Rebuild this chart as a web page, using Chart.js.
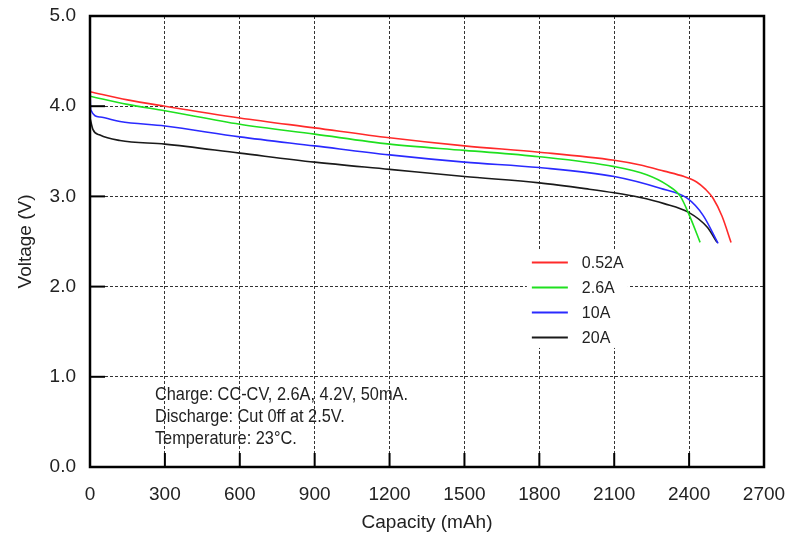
<!DOCTYPE html>
<html lang="en">
<head>
  <meta charset="UTF-8">
  <title>Discharge Curves</title>
  <style>
    body { margin: 0; background: #ffffff; }
    .wrap { width: 787px; height: 535px; }
  </style>
</head>
<body>
  <div class="wrap"><canvas id="dischargeChart" width="787" height="535"></canvas></div>

  <script src="https://cdn.jsdelivr.net/npm/chart.js"></script>
  <script>
    // capacity (mAh) / voltage (V)
    const cap052 = [0, 150, 300, 600, 900, 1200, 1500, 1800, 2100, 2200, 2300, 2380, 2430, 2465, 2496, 2532, 2568];
    const volt052 = [4.16, 4.07, 4.00, 3.87, 3.76, 3.65, 3.56, 3.49, 3.40, 3.35, 3.28, 3.22, 3.16, 3.08, 2.98, 2.78, 2.49];

    const cap26 = [0, 150, 300, 600, 900, 1200, 1500, 1800, 2100, 2230, 2310, 2365, 2404, 2444];
    const volt26 = [4.11, 4.02, 3.95, 3.80, 3.69, 3.58, 3.51, 3.44, 3.33, 3.24, 3.13, 3.00, 2.77, 2.49];

    const cap10 = [0, 3, 40, 120, 300, 600, 900, 1200, 1500, 1800, 2100, 2284, 2392, 2456, 2516];
    const volt10 = [4.15, 3.96, 3.88, 3.83, 3.78, 3.66, 3.56, 3.46, 3.38, 3.32, 3.22, 3.09, 2.98, 2.79, 2.48];

    const cap20 = [0, 12, 40, 120, 300, 600, 900, 1200, 1500, 1800, 2000, 2100, 2200, 2300, 2400, 2472, 2512];
    const volt20 = [3.87, 3.74, 3.68, 3.62, 3.58, 3.48, 3.38, 3.30, 3.22, 3.15, 3.08, 3.04, 2.99, 2.92, 2.82, 2.66, 2.49];

    const seriesLabels = ['0.52A', '2.6A', '10A', '20A'];
    const seriesColors = ['#ff2a2a', '#1fe01f', '#2a2aff', '#1a1a1a'];

    const notes = ['Charge: CC-CV, 2.6A, 4.2V, 50mA.', 'Discharge: Cut 0ff at 2.5V.', 'Temperature: 23\u00b0C.'];

    const FONT = '"Liberation Sans", Arial, sans-serif';

    function toPoints(xs, ys) {
      return xs.map((x, i) => ({ x: x, y: ys[i] }));
    }

    const allCaps = [cap052, cap26, cap10, cap20];
    const allVolts = [volt052, volt26, volt10, volt20];

    const datasets = seriesLabels.map((lbl, i) => ({
      label: lbl,
      data: toPoints(allCaps[i], allVolts[i]),
      borderColor: seriesColors[i],
      borderWidth: 1.6,
      pointRadius: 0,
      showLine: true,
      fill: false,
      cubicInterpolationMode: 'monotone'
    }));

    // frame, inward ticks, notes and the boxed legend
    const decorPlugin = {
      id: 'decor',
      afterDatasetsDraw(chart) {
        const ctx = chart.ctx;
        const a = chart.chartArea;
        const xs = chart.scales.x;
        const ys = chart.scales.y;
        ctx.save();

        // inward tick marks
        ctx.strokeStyle = '#000';
        ctx.lineWidth = 2;
        ys.ticks.forEach(t => {
          const py = ys.getPixelForValue(t.value);
          ctx.beginPath(); ctx.moveTo(a.left, py); ctx.lineTo(a.left + 15, py); ctx.stroke();
        });
        xs.ticks.forEach(t => {
          const px = xs.getPixelForValue(t.value);
          ctx.beginPath(); ctx.moveTo(px, a.bottom); ctx.lineTo(px, a.bottom - 14); ctx.stroke();
        });

        // frame
        ctx.lineWidth = 2.5;
        ctx.strokeRect(a.left, a.top, a.right - a.left, a.bottom - a.top);

        // notes (condensed face)
        ctx.fillStyle = '#222';
        ctx.font = '19px ' + FONT;
        ctx.textBaseline = 'middle';
        ctx.textAlign = 'left';
        const nx = xs.getPixelForValue(260);
        const ny = ys.getPixelForValue(0.80);
        const sx = 0.86;
        ctx.save();
        ctx.scale(sx, 1);
        notes.forEach((n, i) => ctx.fillText(n, nx / sx, ny + i * 22));
        ctx.restore();

        // legend box
        const bx = xs.getPixelForValue(1750);
        const bx2 = xs.getPixelForValue(2155);
        const by = ys.getPixelForValue(2.41);
        const by2 = ys.getPixelForValue(1.32);
        ctx.fillStyle = '#fff';
        ctx.fillRect(bx, by, bx2 - bx, by2 - by);
        ctx.font = '16px ' + FONT;
        seriesLabels.forEach((lbl, i) => {
          const ry = by + 13 + i * 25;
          ctx.strokeStyle = seriesColors[i];
          ctx.lineWidth = 2;
          ctx.beginPath(); ctx.moveTo(bx + 5, ry); ctx.lineTo(bx + 41, ry); ctx.stroke();
          ctx.fillStyle = '#222';
          ctx.fillText(lbl, bx + 55, ry + 1);
        });

        ctx.restore();
      }
    };

    new Chart(document.getElementById('dischargeChart'), {
      type: 'scatter',
      data: { datasets: datasets },
      options: {
        responsive: false,
        animation: false,
        layout: { padding: { top: 16, right: 23, left: 0, bottom: 0 } },
        plugins: { legend: { display: false }, tooltip: { enabled: false } },
        scales: {
          x: {
            type: 'linear',
            min: 0,
            max: 2700,
            afterFit: s => { s.height = 68; s.paddingLeft = 0; s.paddingRight = 0; },
            ticks: { stepSize: 300, color: '#222', padding: 16, font: { family: FONT, size: 19 }, callback: v => String(v) },
            grid: { color: '#333', lineWidth: 1, drawTicks: false },
            border: { display: false, dash: [3, 2] },
            title: { display: true, text: 'Capacity (mAh)', color: '#222', font: { family: FONT, size: 19 }, padding: { top: 0, bottom: 1 } }
          },
          y: {
            min: 0,
            max: 5,
            afterFit: s => { s.width = 90; s.paddingTop = 0; s.paddingBottom = 0; },
            ticks: { stepSize: 1, color: '#222', padding: 14, font: { family: FONT, size: 19 }, callback: v => v.toFixed(1) },
            grid: { color: '#333', lineWidth: 1, drawTicks: false },
            border: { display: false, dash: [3, 2] },
            title: { display: true, text: 'Voltage (V)', color: '#222', font: { family: FONT, size: 19 }, padding: { top: 14, bottom: 0 } }
          }
        }
      },
      plugins: [decorPlugin]
    });
  </script>
</body>
</html>
